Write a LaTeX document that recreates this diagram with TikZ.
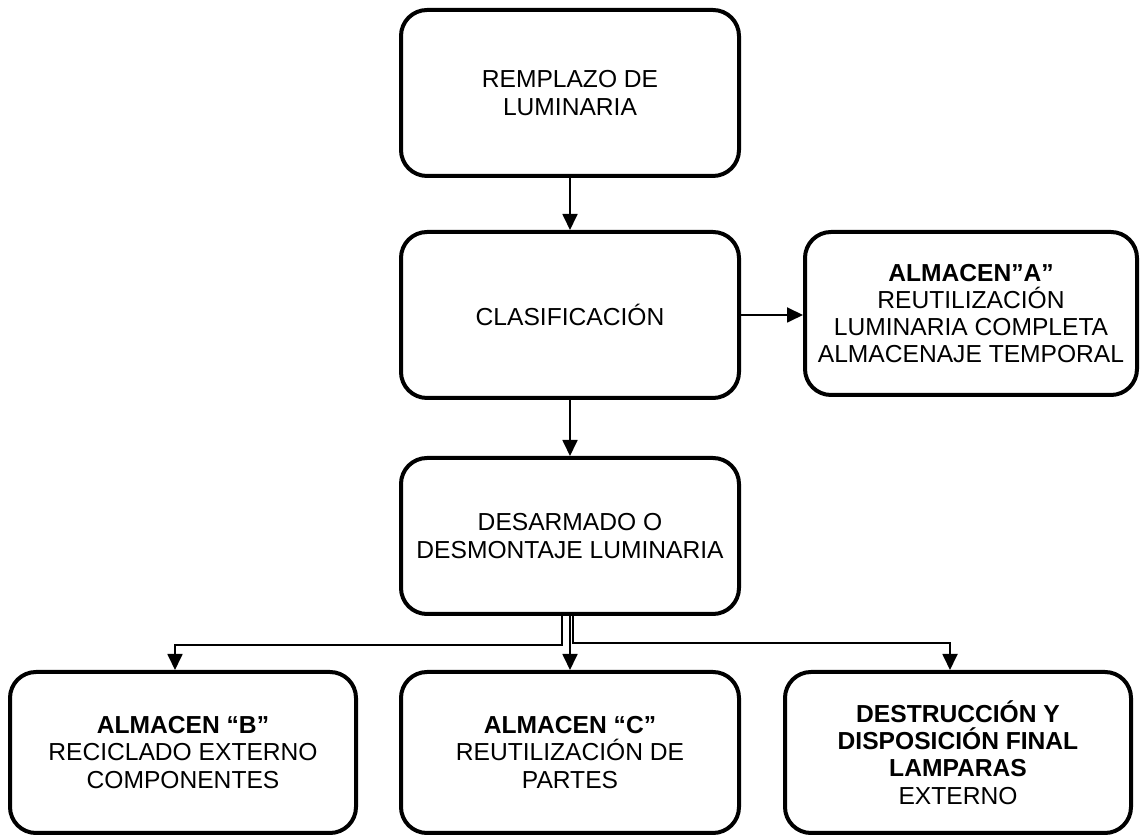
\documentclass[tikz,border=0pt]{standalone}
\usepackage{fontspec}
\setmainfont{Liberation Sans}
\usepackage{tikz}
\usetikzlibrary{
    arrows.meta,
    calc,
    positioning
}

\begin{document}
\begin{tikzpicture}[x=0.5pt, y=0.5pt,
        caja/.style={draw, line width=2pt, rounded corners=13pt, align=center,
            font=\fontsize{12.3}{13.6}\selectfont, inner sep=2pt},
        flecha/.style={line width=0.9pt, -{Triangle[length=8pt, width=7.5pt]}}]
                                \useasboundingbox (0, 0) rectangle (1141, 840);
                                \node[caja, minimum width=169pt, minimum height=83pt] (rem) at (570, 747)
                                {REMPLAZO DE\\LUMINARIA};
                                \node[caja, minimum width=169pt, minimum height=83pt] (cla) at (570, 525)
                                {CLASIFICACIÓN};
                                \node[caja, minimum width=166pt, minimum height=81.5pt] (alA) at (971, 526.5)
                                {\textbf{ALMACEN”A”}\\REUTILIZACIÓN\\LUMINARIA COMPLETA\\ALMACENAJE TEMPORAL};
                                \node[caja, minimum width=169pt, minimum height=78pt] (des) at (570, 304)
                                {DESARMADO O\\DESMONTAJE LUMINARIA};
                                \node[caja, minimum width=173pt, minimum height=80.5pt] (alB) at (183, 87.5)
                                {\textbf{ALMACEN “B”}\\RECICLADO EXTERNO\\COMPONENTES};
                                \node[caja, minimum width=169pt, minimum height=80.5pt] (alC) at (570, 87.5)
                                {\textbf{ALMACEN “C”}\\REUTILIZACIÓN DE\\PARTES};
                                \node[caja, minimum width=173pt, minimum height=80.5pt] (alD) at (958, 87.5)
                                {\textbf{DESTRUCCIÓN Y}\\\textbf{DISPOSICIÓN FINAL}\\\textbf{LAMPARAS}\\EXTERNO};
                                \draw[flecha] (rem.south) -- (cla.north);
                                \draw[flecha] (cla.east) -- (cla.east -| alA.west);
                                \draw[flecha] (cla.south) -- (des.north);
                                \draw[flecha] (des.south) -- (alC.north);
                                \draw[flecha] ([xshift=-4pt]des.south) -- ++(0, -29) -| ([xshift=-4pt]alB.north);
                                \draw[flecha] ([xshift=1.5pt]des.south) -- ++(0, -27) -| ([xshift=-4pt]alD.north);
                            \end{tikzpicture}
\end{document}
